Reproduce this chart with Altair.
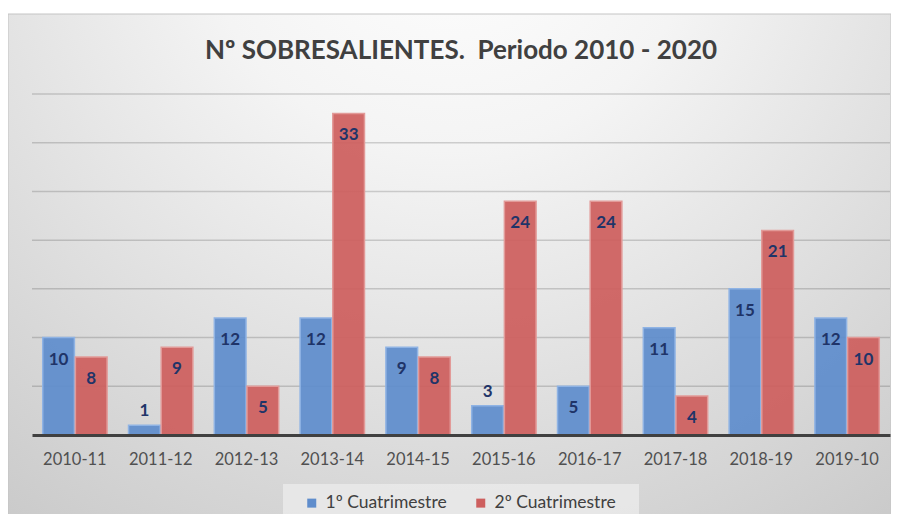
import altair as alt
import pandas as pd

titulo = "Nº SOBRESALIENTES.\u00a0 Periodo 2010 - 2020"
cursos = ["2010-11", "2011-12", "2012-13", "2013-14", "2014-15",
          "2015-16", "2016-17", "2017-18", "2018-19", "2019-10"]
primer = [10, 1, 12, 12, 9, 3, 5, 11, 15, 12]
segundo = [8, 9, 5, 33, 8, 24, 24, 4, 21, 10]
series = ["1º Cuatrimestre", "2º Cuatrimestre"]
colores = ["#5f8dcc", "#cd5f5e"]
grid_vals = [5, 10, 15, 20, 25, 30, 35]

rows = []
for c, a, b in zip(cursos, primer, segundo):
    rows.append({"curso": c, "serie": series[0], "valor": a})
    rows.append({"curso": c, "serie": series[1], "valor": b})
df = pd.DataFrame(rows)
grid_df = pd.DataFrame({"g": grid_vals})
one = pd.DataFrame({"t": [titulo]})

W, H = 858, 341
FONT = "Lato"

ysc = alt.Scale(domain=[0, 35], nice=False, zero=True)
xsc = alt.Scale(paddingInner=0.25, paddingOuter=0.125)

bg = alt.Chart(one).mark_rect(
    fill=alt.Gradient(
        gradient="radial",
        x1=0.5, y1=0.08, r1=0.0,
        x2=0.5, y2=0.08, r2=0.95,
        stops=[
            alt.GradientStop(color="#ffffff", offset=0),
            alt.GradientStop(color="#f4f4f4", offset=0.3),
            alt.GradientStop(color="#dcdcdc", offset=0.65),
            alt.GradientStop(color="#c4c4c4", offset=1),
        ],
    ),
    stroke="#c4c4c4", strokeWidth=1,
).encode(
    x=alt.value(-24), x2=alt.value(W + 1),
    y=alt.value(-80), y2=alt.value(H + 90),
)

title_mark = alt.Chart(one).mark_text(
    font=FONT, fontSize=26, fontWeight="bold", color="#404040",
    align="center", baseline="middle",
).encode(x=alt.value(W / 2), y=alt.value(-43), text="t:N")

legbox = alt.Chart(one).mark_rect(fill="#ececec", opacity=0.75).encode(
    x=alt.value(251), x2=alt.value(607),
    y=alt.value(390), y2=alt.value(427),
)

grid = alt.Chart(grid_df).mark_rule(color="#000000", opacity=0.16, strokeWidth=1.5).encode(
    y=alt.Y("g:Q", scale=ysc, axis=None),
    x=alt.value(0), x2=alt.value(W),
)

base = alt.Chart(df).encode(
    x=alt.X("curso:N", sort=cursos, scale=xsc, title=None,
            axis=alt.Axis(labelAngle=0, ticks=False, domainColor="#404040",
                          domainWidth=3, labelFont=FONT, labelFontSize=16.5,
                          labelColor="#505050", labelPadding=16, zindex=1)),
    xOffset=alt.XOffset("serie:N", sort=series, scale=alt.Scale(paddingInner=0.03)),
    y=alt.Y("valor:Q", scale=ysc, axis=None),
)

bars = base.mark_bar(strokeWidth=1.5, fillOpacity=0.93).encode(
    color=alt.Color("serie:N", sort=series,
                    scale=alt.Scale(domain=series, range=colores),
                    legend=alt.Legend(title=None, orient="none", legendX=271, legendY=400,
                                      direction="horizontal", symbolType="square",
                                      symbolSize=81, symbolStrokeWidth=0,
                                      labelFont=FONT, labelFontSize=17.5,
                                      labelColor="#404040", columnPadding=25,
                                      labelOffset=5, padding=0)),
    stroke=alt.Stroke("serie:N", sort=series,
                      scale=alt.Scale(domain=series, range=["#8fb3e4", "#e29a98"]),
                      legend=None),
)

lab_in = base.transform_filter("datum.valor > 3").mark_text(
    font=FONT, fontSize=17, fontWeight="bold", color="#1f3468",
    baseline="middle", dy=22,
).encode(text="valor:Q")

lab_out = base.transform_filter("datum.valor <= 3").mark_text(
    font=FONT, fontSize=17, fontWeight="bold", color="#1f3468",
    baseline="middle", dy=-14,
).encode(text="valor:Q")

chart = alt.layer(bg, title_mark, legbox, grid, bars, lab_in, lab_out).properties(
    width=W, height=H,
    autosize=alt.AutoSizeParams(type="none"),
    padding={"left": 24, "top": 86, "right": 1, "bottom": 79},
).configure_view(stroke=None).configure(background="#ffffff")

chart.save("out.html", embed_options={"renderer": "svg", "actions": False})
